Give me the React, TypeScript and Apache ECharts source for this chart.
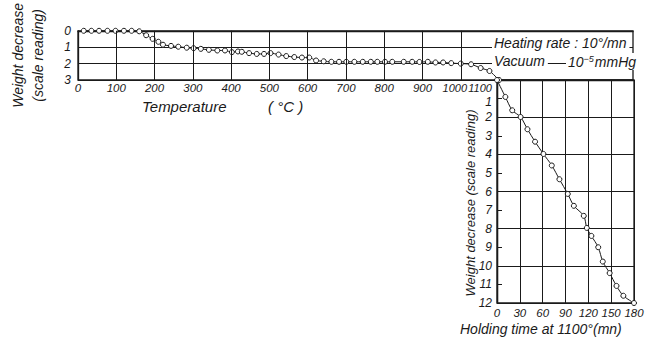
import React, { useEffect, useRef } from "react";
import * as echarts from "echarts";

// Top panel: weight decrease during heating (scale reading) vs temperature (°C)
const topTemps = [15, 35, 55, 77, 98, 120, 140, 160, 178, 195, 210, 222, 243, 262, 284, 302, 321, 342, 364, 384, 402, 418, 428, 447, 467, 486, 503, 524, 544, 565, 585, 604, 622, 642, 662, 682, 701, 722, 744, 765, 782, 802, 821, 851, 873, 892, 914, 934, 954, 975, 1000, 1027, 1052, 1075, 1100];
const topDecrease = [0, 0, 0, 0, 0, 0, 0, 0.03, 0.27, 0.49, 0.67, 0.85, 0.92, 0.97, 1.03, 1.06, 1.1, 1.16, 1.2, 1.2, 1.3, 1.26, 1.28, 1.36, 1.41, 1.41, 1.36, 1.45, 1.54, 1.6, 1.63, 1.63, 1.81, 1.86, 1.89, 1.89, 1.89, 1.89, 1.89, 1.89, 1.89, 1.89, 1.89, 1.89, 1.89, 1.9, 1.89, 1.93, 1.93, 1.97, 2.0, 2.04, 2.27, 2.45, 3];

// Right panel: weight decrease vs holding time at 1100 °C (min)
const holdTimes = [0, 11, 20, 31, 40, 50, 61, 72, 82, 93, 101, 114, 118, 124, 133, 139, 148, 157, 166, 180];
const holdDecrease = [0, 0.91, 1.63, 1.99, 2.65, 3.32, 3.98, 4.6, 5.34, 6.13, 6.77, 7.31, 7.96, 8.39, 9.0, 9.77, 10.39, 11.08, 11.61, 12];

const tempGridLines = [100, 200, 300, 400, 500, 600, 700, 800, 900, 1000];
const lastTempLabel = 1100;

const FONT = "'Liberation Sans', Arial, sans-serif";
const INK = "#1a1a1a";

export default function App() {
  const ref = useRef<HTMLDivElement>(null);
  useEffect(() => {
    if (!ref.current) return;
    const chart = echarts.init(ref.current, undefined, { renderer: "svg" });
    const labelStyle = { color: INK, fontFamily: FONT, fontStyle: "italic", fontSize: 12 };
    const tight = { fontFamily: FONT, fontStyle: "italic", fontSize: 11, lineHeight: 11, color: INK };
    chart.setOption({
      animation: false,
      backgroundColor: "#fff",
      grid: [
        { left: 70, top: 25, width: 563, height: 55, show: true, borderColor: INK, borderWidth: 1.3 },
        { left: 497, top: 80, width: 137, height: 223, show: true, borderColor: INK, borderWidth: 1.3 },
      ],
      xAxis: [
        {
          gridIndex: 0, type: "value", min: 0, max: 1450, interval: 100,
          axisLine: { show: true, lineStyle: { color: INK, width: 1.3 } },
          axisTick: { show: false },
          splitLine: { show: false },
          axisLabel: {
            ...labelStyle, fontSize: 11.5, lineHeight: 11, margin: 2, showMaxLabel: false,
            formatter: (v: number) =>
              v < lastTempLabel - 100 ? String(v) : v === lastTempLabel - 100 ? `{pen|${v}}` : v === lastTempLabel ? `{last|${v}}` : "",
            rich: {
              pen: { ...tight, padding: [0, 12, 0, 0] },
              last: { ...tight, padding: [0, 38, 0, 0] },
            },
          },
        },
        {
          gridIndex: 1, type: "value", min: 0, max: 180, interval: 30,
          axisLine: { show: true, lineStyle: { color: INK, width: 1.3 } },
          axisTick: { show: false },
          splitLine: { show: true, lineStyle: { color: INK, width: 1 } },
          axisLabel: { ...labelStyle, fontSize: 11.5, margin: 4 },
        },
      ],
      yAxis: [
        {
          gridIndex: 0, type: "value", inverse: true, min: 0, max: 3, interval: 1,
          axisLine: { show: true, lineStyle: { color: INK, width: 1.3 } },
          axisTick: { show: false },
          splitLine: { show: true, lineStyle: { color: INK, width: 1 } },
          axisLabel: { ...labelStyle, margin: 7 },
          name: "Weight decrease\n(scale reading)",
          nameLocation: "middle", nameRotate: 90, nameGap: 30,
          nameTextStyle: { color: INK, fontFamily: FONT, fontStyle: "italic", fontSize: 14, lineHeight: 20 },
        },
        {
          gridIndex: 1, type: "value", inverse: true, min: 0, max: 12, interval: 2, position: "left",
          axisLine: { show: true, lineStyle: { color: INK, width: 1.3 } },
          axisTick: { show: false },
          axisLabel: { show: false },
          splitLine: { show: true, lineStyle: { color: INK, width: 1 } },
        },
        {
          gridIndex: 1, type: "value", inverse: true, min: 0, max: 12, interval: 1, position: "left", offset: 0,
          axisLine: { show: true, lineStyle: { color: INK, width: 1.3 } },
          axisTick: { show: true, inside: true, length: 5, lineStyle: { color: INK } },
          splitLine: { show: false },
          axisLabel: {
            ...labelStyle, lineHeight: 12, margin: 5,
            formatter: (v: number) => (v === 0 ? "" : v === 1 ? `{first|${v}}` : String(v)),
            rich: { first: { fontFamily: FONT, fontStyle: "italic", fontSize: 12, lineHeight: 12, color: INK, padding: [7, 0, 0, 0] } },
          },
        },
      ],
      series: [
        {
          type: "line", xAxisIndex: 0, yAxisIndex: 0,
          data: topTemps.map((t, i) => [t, topDecrease[i]]),
          smooth: 0.2, symbol: "circle", symbolSize: 5,
          lineStyle: { color: INK, width: 1 },
          itemStyle: { color: "#fff", borderColor: INK, borderWidth: 1 },
          markLine: {
            silent: true, symbol: "none", label: { show: false },
            lineStyle: { color: INK, width: 1, type: "solid" },
            data: tempGridLines.map((v) => ({ xAxis: v })),
          },
          z: 3,
        },
        {
          type: "line", xAxisIndex: 1, yAxisIndex: 2,
          data: holdTimes.map((t, i) => [t, holdDecrease[i]]),
          smooth: 0.3, symbol: "circle", symbolSize: 5,
          lineStyle: { color: INK, width: 1 },
          itemStyle: { color: "#fff", borderColor: INK, borderWidth: 1 },
          z: 3,
        },
      ],
      graphic: [
        {
          type: "text", left: 142, top: 99, z: 10,
          style: { text: "Temperature", fill: INK, font: `italic 15px ${FONT}` },
        },
        {
          type: "text", left: 268, top: 99, z: 10,
          style: { text: "( °C )", fill: INK, font: `italic 15px ${FONT}` },
        },
        {
          type: "text", x: 470, y: 203, rotation: Math.PI / 2, z: 10,
          style: { text: "Weight decrease (scale reading)", fill: INK, font: `italic 13px ${FONT}`, align: "center", verticalAlign: "middle" },
        },
        {
          type: "text", left: 460, top: 322, z: 10,
          style: { text: "Holding time at 1100°(mn)", fill: INK, font: `italic 14px ${FONT}` },
        },
        {
          type: "text", left: 492, top: 35, z: 10,
          style: {
            text: "Heating rate : 10°/mn", fill: INK, font: `italic 14px ${FONT}`,
            backgroundColor: "#fff", padding: [1, 3, 1, 2],
          },
        },
        {
          type: "text", left: 492, top: 53, z: 10,
          style: {
            text: "Vacuum", fill: INK, font: `italic 14px ${FONT}`,
            backgroundColor: "#fff", padding: [1, 3, 1, 2],
          },
        },
        {
          type: "text", left: 566, top: 53, z: 10,
          style: {
            text: "10{s|−5}mmHg", fill: INK, font: `italic 14px ${FONT}`,
            backgroundColor: "#fff", padding: [1, 3, 1, 2],
            rich: { s: { fontSize: 9, fontStyle: "italic", fontFamily: FONT, fill: INK, verticalAlign: "top", padding: [0, 1, 6, 0] } },
          },
        },
      ],
    });
    return () => chart.dispose();
  }, []);
  return (
    <div
      ref={ref}
      style={{ position: "fixed", left: 0, top: 0, width: 647, height: 343, background: "#fff" }}
    />
  );
}
